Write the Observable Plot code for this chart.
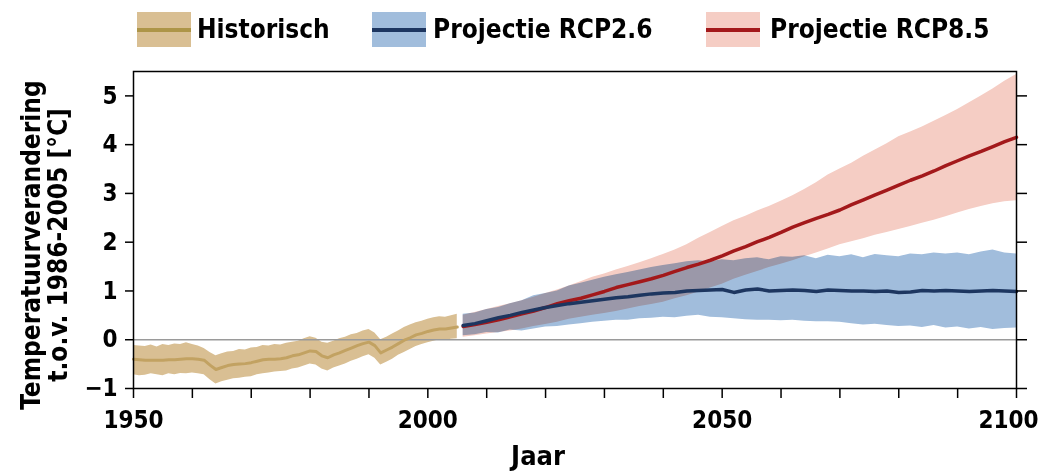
<!DOCTYPE html>
<html>
<head>
<meta charset="utf-8">
<script src="https://cdn.jsdelivr.net/npm/d3@7"></script>
<script src="https://cdn.jsdelivr.net/npm/@observablehq/plot@0.6"></script>
<style>
  html, body { margin: 0; padding: 0; background: #fff; }
  #wrap { position: relative; width: 1042px; height: 473px; overflow: hidden; font-family: 'DejaVu Sans Condensed', 'DejaVu Sans', sans-serif; font-weight: bold; }
  #legend { position: relative; height: 60px; }
  .sw { position: absolute; top: 12px; width: 54px; height: 35px; }
  .sw span { position: absolute; left: 0; right: 0; top: 16px; height: 4px; }
  .lt { position: absolute; top: 11px; font-size: 26px; line-height: 36px; color: #000; white-space: nowrap; }
</style>
</head>
<body>
<div id="wrap">
  <div id="legend"></div>
  <div id="chart"></div>
</div>
<script>
// ---- Data ----
const seriesNames = ["Historisch", "Projectie RCP2.6", "Projectie RCP8.5"];

const histYears = d3.range(1950, 2006);
const histMean = [-0.40,-0.41,-0.42,-0.42,-0.42,-0.42,-0.41,-0.41,-0.40,-0.39,
  -0.39,-0.40,-0.42,-0.52,-0.61,-0.57,-0.53,-0.51,-0.50,-0.49,
  -0.47,-0.44,-0.41,-0.40,-0.40,-0.39,-0.37,-0.33,-0.31,-0.27,
  -0.23,-0.24,-0.33,-0.37,-0.31,-0.27,-0.22,-0.17,-0.12,-0.08,
  -0.05,-0.12,-0.27,-0.21,-0.15,-0.08,-0.01,0.04,0.10,0.13,
  0.17,0.20,0.22,0.22,0.24,0.26];
const histHi = [-0.12,-0.13,-0.14,-0.11,-0.15,-0.10,-0.12,-0.09,-0.10,-0.06,
  -0.10,-0.13,-0.18,-0.26,-0.33,-0.29,-0.25,-0.24,-0.20,-0.21,
  -0.17,-0.16,-0.12,-0.13,-0.10,-0.11,-0.07,-0.05,-0.03,0.02,
  0.06,0.03,-0.05,-0.07,-0.03,0.02,0.05,0.10,0.13,0.18,
  0.21,0.14,0.00,0.05,0.12,0.18,0.25,0.30,0.35,0.38,
  0.42,0.45,0.47,0.46,0.49,0.52];
const histLo = [-0.72,-0.74,-0.73,-0.70,-0.72,-0.74,-0.70,-0.72,-0.69,-0.70,
  -0.68,-0.70,-0.72,-0.82,-0.91,-0.86,-0.83,-0.80,-0.79,-0.77,
  -0.76,-0.72,-0.70,-0.68,-0.66,-0.65,-0.64,-0.60,-0.58,-0.54,
  -0.50,-0.52,-0.60,-0.64,-0.58,-0.54,-0.50,-0.44,-0.40,-0.35,
  -0.31,-0.38,-0.52,-0.46,-0.40,-0.32,-0.26,-0.20,-0.14,-0.10,
  -0.06,-0.03,0.00,-0.01,0.01,0.02];

const projYears = d3.range(2006, 2101, 2);
const rcp26Mean = [0.29,0.33,0.39,0.45,0.50,0.56,0.61,0.66,0.70,0.74,
  0.77,0.80,0.83,0.86,0.88,0.91,0.94,0.96,0.97,1.00,
  1.01,1.02,1.03,0.97,1.02,1.04,1.00,1.01,1.02,1.01,
  0.99,1.02,1.01,1.00,1.00,0.99,1.00,0.97,0.98,1.01,
  1.00,1.01,1.00,0.99,1.00,1.01,1.00,0.99];
const rcp26Hi = [0.52,0.55,0.62,0.66,0.74,0.80,0.90,0.95,1.00,1.10,
  1.16,1.22,1.28,1.33,1.38,1.43,1.48,1.52,1.56,1.60,
  1.62,1.60,1.64,1.62,1.66,1.68,1.64,1.70,1.69,1.72,
  1.66,1.73,1.70,1.74,1.68,1.75,1.72,1.70,1.76,1.74,
  1.78,1.76,1.78,1.74,1.80,1.84,1.78,1.76];
const rcp26Lo = [0.08,0.10,0.15,0.14,0.20,0.18,0.22,0.26,0.27,0.30,
  0.33,0.36,0.38,0.40,0.40,0.43,0.44,0.46,0.45,0.48,
  0.50,0.46,0.45,0.43,0.41,0.40,0.40,0.39,0.40,0.38,
  0.37,0.37,0.36,0.33,0.30,0.32,0.29,0.27,0.28,0.25,
  0.29,0.24,0.26,0.22,0.25,0.21,0.23,0.24];
const rcp85Mean = [0.27,0.31,0.36,0.41,0.47,0.53,0.59,0.66,0.74,0.80,
  0.85,0.92,0.99,1.07,1.13,1.19,1.25,1.32,1.40,1.48,
  1.55,1.63,1.72,1.82,1.91,2.01,2.10,2.20,2.31,2.40,
  2.49,2.57,2.66,2.77,2.87,2.97,3.07,3.17,3.27,3.36,
  3.46,3.57,3.67,3.77,3.86,3.96,4.06,4.15];
const rcp85Hi = [0.50,0.56,0.62,0.68,0.74,0.80,0.87,0.95,1.02,1.10,
  1.19,1.28,1.35,1.43,1.50,1.58,1.66,1.75,1.84,1.95,
  2.08,2.20,2.32,2.44,2.53,2.64,2.73,2.84,2.95,3.08,
  3.22,3.38,3.50,3.62,3.76,3.89,4.02,4.16,4.26,4.36,
  4.48,4.60,4.72,4.86,5.00,5.14,5.30,5.44];
const rcp85Lo = [0.05,0.08,0.12,0.15,0.18,0.22,0.27,0.31,0.36,0.42,
  0.46,0.50,0.54,0.58,0.63,0.68,0.72,0.77,0.84,0.90,
  0.98,1.06,1.14,1.24,1.32,1.40,1.48,1.55,1.62,1.70,
  1.78,1.86,1.95,2.01,2.07,2.14,2.20,2.26,2.32,2.39,
  2.45,2.52,2.60,2.67,2.73,2.79,2.83,2.85];

const yTicks = [-1, 0, 1, 2, 3, 4, 5];
const xTicks = [1950, 1960, 1970, 1980, 1990, 2000, 2010, 2020, 2030, 2040, 2050, 2060, 2070, 2080, 2090, 2100];
const xLabelled = [1950, 2000, 2050, 2100];
const yTitle = "Temperatuurverandering\nt.o.v. 1986-2005 [°C]";
const xTitle = "Jaar";

// ---- Styles ----
const colors = {
  histBand: "#d9bf93", histLine: "#c2a262", histLegLine: "#ad9548",
  r26Band: "#a1bddc", r26Line: "#1d3660",
  r85Band: "#f5cdc4", r85Line: "#a3191b"
};

const hist = histYears.map((year, i) => ({year, mean: histMean[i], lo: histLo[i], hi: histHi[i]}));
const r26 = projYears.map((year, i) => ({year, mean: rcp26Mean[i], lo: rcp26Lo[i], hi: rcp26Hi[i]}));
const r85 = projYears.map((year, i) => ({year, mean: rcp85Mean[i], lo: rcp85Lo[i], hi: rcp85Hi[i]}));

// ---- Legend ----
const legend = document.getElementById("legend");
const legItems = [
  {name: seriesNames[0], band: colors.histBand, line: colors.histLegLine, sw: 137, tx: 197},
  {name: seriesNames[1], band: colors.r26Band, line: colors.r26Line, sw: 372, tx: 433},
  {name: seriesNames[2], band: colors.r85Band, line: colors.r85Line, sw: 706, tx: 770}
];
for (const it of legItems) {
  const s = document.createElement("div");
  s.className = "sw"; s.style.left = it.sw + "px"; s.style.background = it.band;
  const l = document.createElement("span"); l.style.background = it.line;
  s.appendChild(l); legend.appendChild(s);
  const t = document.createElement("div");
  t.className = "lt"; t.style.left = it.tx + "px"; t.textContent = it.name;
  legend.appendChild(t);
}

// ---- Chart ----
const fmtY = d => d < 0 ? "\u2212" + Math.abs(d) : String(d);
const chart = Plot.plot({
  width: 1042,
  height: 413,
  marginTop: 11,
  marginBottom: 85,
  marginLeft: 133,
  marginRight: 26,
  style: {fontFamily: "'DejaVu Sans Condensed', 'DejaVu Sans', sans-serif", fontWeight: "bold", fontSize: "24px", color: "#000", background: "#fff"},
  x: {domain: [1950, 2100]},
  y: {domain: [-1, 5.5]},
  marks: [
    Plot.areaY(hist, {x: "year", y1: "lo", y2: "hi", fill: colors.histBand}),
    Plot.areaY(r85, {x: "year", y1: "lo", y2: "hi", fill: colors.r85Band, mixBlendMode: "multiply"}),
    Plot.areaY(r26, {x: "year", y1: "lo", y2: "hi", fill: colors.r26Band, mixBlendMode: "multiply"}),
    Plot.ruleY([0], {stroke: "#9a9a9a", strokeWidth: 1.5}),
    Plot.lineY(hist, {x: "year", y: "mean", stroke: colors.histLine, strokeWidth: 3}),
    Plot.lineY(r85, {x: "year", y: "mean", stroke: colors.r85Line, strokeWidth: 3.5}),
    Plot.lineY(r26, {x: "year", y: "mean", stroke: colors.r26Line, strokeWidth: 3.5}),
    Plot.frame({stroke: "#000", strokeWidth: 1.5}),
    Plot.axisY({anchor: "left", ticks: yTicks, tickSize: 8, tickPadding: 8, tickFormat: fmtY, fontSize: 24, label: null, strokeWidth: 1.5}),
    Plot.axisY({anchor: "right", ticks: yTicks, tickSize: 10, tickFormat: () => "", label: null, strokeWidth: 1.5}),
    Plot.axisX({anchor: "bottom", ticks: xTicks, tickSize: 10, tickPadding: 12, fontSize: 24, tickFormat: d => xLabelled.includes(d) ? String(d) : "", label: null, strokeWidth: 1.5}),
    Plot.text([yTitle], {frameAnchor: "left", rotate: -90, dx: -89, dy: 15, fontSize: 26, lineHeight: 1.04, textAnchor: "middle", fill: "#000"}),
    Plot.text([xTitle], {frameAnchor: "bottom", dx: -37, dy: 76, fontSize: 27, textAnchor: "middle", fill: "#000"})
  ]
});
document.getElementById("chart").appendChild(chart);
// keep the right-most year label inside the window
d3.select(chart).selectAll("text").filter(function () { return this.textContent === "2100"; }).attr("dx", "-8");
</script>
</body>
</html>
